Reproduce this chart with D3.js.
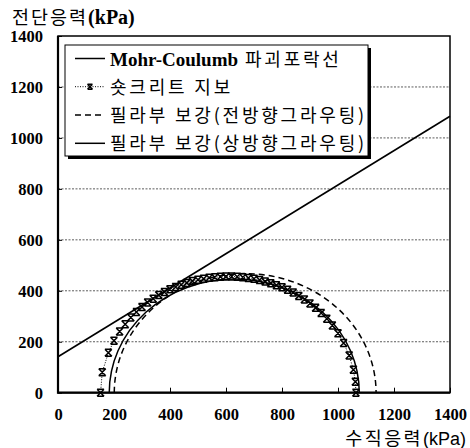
<!DOCTYPE html>
<html><head><meta charset="utf-8">
<script src="https://cdn.jsdelivr.net/npm/d3@7"></script>
<style>body{margin:0;background:#fff}svg{display:block}</style>
</head><body>
<svg id="c" width="470" height="448"></svg>
<script>
const xTicks = [0,200,400,600,800,1000,1200,1400];
const yTicks = [0,200,400,600,800,1000,1200,1400];
const gridVals = [200,400,600,800,1000,1200];
// Mohr-Coulomb failure envelope (sigma, tau)
const mcSigma = [0,1400];
const mcTau = [141,1085];
// Mohr circles for reinforced cases (sigma3, sigma1)
const circleNames = ["필라부 보강(전방향그라우팅)","필라부 보강(상방향그라우팅)"];
const circleSigma3 = [201,183];
const circleSigma1 = [1136,1076];
// Shotcrete support points (sigma, tau)
const shotSigma = [152,158,180,200,220,240,260,280,300,320,340,360,380,400,420,440,460,480,500,520,540,560,580,600,620,640,660,680,700,720,740,760,780,800,820,840,860,880,900,920,940,960,980,1000,1020,1040,1055,1062,1064];
const shotTau   = [0,80,157,204,240,269,295,317,336,354,369,383,395,406,415,424,431,438,443,447,451,453,455,456,456,455,453,450,447,442,436,430,422,414,404,393,380,366,350,333,313,290,264,233,195,146,90,43,0];

const KR = "'Noto Sans CJK KR', sans-serif";
const SERIF = "'Liberation Serif', 'Times New Roman', serif";
const svg = d3.select("#c");
const x = d3.scaleLinear().domain([0,1400]).range([58,450]);
const y = d3.scaleLinear().domain([0,1400]).range([392.7,36]);

// grid
svg.append("g").selectAll("line").data(gridVals).join("line")
  .attr("x1",x(0)).attr("x2",x(1400)).attr("y1",d=>y(d)).attr("y2",d=>y(d))
  .attr("stroke","#333").attr("stroke-width",0.8).attr("stroke-dasharray","2,1.5");

// axes with inner ticks
const fmt = d3.format("d");
const xa = svg.append("g").attr("transform",`translate(0,${y(0)})`)
  .call(d3.axisBottom(x).tickValues(xTicks).tickFormat(fmt).tickSize(-5).tickPadding(16).tickSizeOuter(0));
const ya = svg.append("g").attr("transform",`translate(${x(0)},0)`)
  .call(d3.axisLeft(y).tickValues(yTicks).tickFormat(fmt).tickSize(-4).tickPadding(15).tickSizeOuter(0));
[xa,ya].forEach(a=>{
  a.select(".domain").remove();
  a.selectAll("text").attr("font-family",SERIF).attr("font-weight","bold").attr("font-size",16.5).attr("fill","#000");
  a.selectAll("line").attr("stroke","#000");
});
ya.selectAll("text").attr("dy","0.35em");

// border
svg.append("rect").attr("x",x(0)).attr("y",y(1400)).attr("width",x(1400)-x(0)).attr("height",y(0)-y(1400))
  .attr("fill","none").attr("stroke","#000").attr("stroke-width",1.5);
svg.append("path").attr("d",`M${x(0)},${y(1400)}V${y(0)}H${x(1400)}`).attr("fill","none").attr("stroke","#000").attr("stroke-width",2.2);

const plot = svg.append("g");
// MC line
plot.append("line").attr("x1",x(mcSigma[0])).attr("y1",y(mcTau[0])).attr("x2",x(mcSigma[1])).attr("y2",y(mcTau[1]))
  .attr("stroke","#000").attr("stroke-width",1.6);

// circles
const circleDash = ["6,4",null];
circleSigma3.forEach((s3,i)=>{
  const s1 = circleSigma1[i];
  const r = (s1-s3)/2;
  const rx = x(s3+r)-x(s3), ry = y(0)-y(r);
  plot.append("path").attr("d",`M${x(s3)},${y(0)}A${rx},${ry} 0 0 1 ${x(s1)},${y(0)}`)
    .attr("fill","none").attr("stroke","#000").attr("stroke-width",1.5)
    .attr("stroke-dasharray",circleDash[i]);
});

// shotcrete
const pts = shotSigma.map((s,i)=>[x(s),y(shotTau[i])]);
plot.append("path").attr("d",d3.line()(pts)).attr("fill","none").attr("stroke","#000").attr("stroke-width",1).attr("stroke-dasharray","1,1.5");
function star(g,cx,cy,s){
  g.append("path").attr("d",`M${cx-s},${cy-s}L${cx+s},${cy+s}M${cx-s},${cy+s}L${cx+s},${cy-s}M${cx-s},${cy-s}H${cx+s}M${cx-s},${cy+s}H${cx+s}`)
   .attr("stroke","#000").attr("stroke-width",1.5).attr("fill","none");
}
pts.forEach(p=>star(plot,p[0],p[1],3.5));

// axis titles
const t1 = svg.append("text").attr("x",12).attr("y",24).attr("fill","#000");
t1.append("tspan").attr("font-family",KR).attr("font-size",18.5).attr("letter-spacing",2).text("전단응력");
t1.append("tspan").attr("font-family",SERIF).attr("font-weight","bold").attr("font-size",20).text("(kPa)");
const t2 = svg.append("text").attr("x",466).attr("y",444.5).attr("text-anchor","end").attr("fill","#000");
t2.append("tspan").attr("font-family",KR).attr("font-size",18.5).attr("letter-spacing",2.4).text("수직응력");
t2.append("tspan").attr("font-family","'Liberation Sans', Arial, sans-serif").attr("font-size",18).text("(kPa)");

// legend
const lg = svg.append("g");
lg.append("rect").attr("x",68).attr("y",48).attr("width",303).attr("height",111).attr("fill","#000");
lg.append("rect").attr("x",65).attr("y",45).attr("width",303).attr("height",111).attr("fill","#fff").attr("stroke","#000").attr("stroke-width",1);
const rowsY = [58.5,86.7,115,143.3];
const lx1=75, lx2=105, tx=110;
lg.append("line").attr("x1",lx1).attr("x2",lx2).attr("y1",rowsY[0]).attr("y2",rowsY[0]).attr("stroke","#000").attr("stroke-width",1.5);
lg.append("line").attr("x1",lx1).attr("x2",lx2).attr("y1",rowsY[1]).attr("y2",rowsY[1]).attr("stroke","#000").attr("stroke-width",1).attr("stroke-dasharray","1,1.5");
star(lg,90,rowsY[1],2.5);
lg.append("line").attr("x1",lx1).attr("x2",lx2).attr("y1",rowsY[2]).attr("y2",rowsY[2]).attr("stroke","#000").attr("stroke-width",1.5).attr("stroke-dasharray","6,4");
lg.append("line").attr("x1",lx1).attr("x2",lx2).attr("y1",rowsY[3]).attr("y2",rowsY[3]).attr("stroke","#000").attr("stroke-width",1.5);
const LS = 2.8;
const r1 = lg.append("text").attr("x",tx).attr("y",rowsY[0]+7).attr("fill","#000");
r1.append("tspan").attr("font-family",SERIF).attr("font-weight","bold").attr("font-size",19).text("Mohr-Coulumb");
r1.append("tspan").attr("font-family",KR).attr("font-size",18).attr("letter-spacing",LS).text(" 파괴포락선");
lg.append("text").attr("x",tx).attr("y",rowsY[1]+7).attr("font-family",KR).attr("font-size",18).attr("letter-spacing",LS).text("숏크리트 지보");
lg.append("text").attr("x",tx).attr("y",rowsY[2]+7).attr("font-family",KR).attr("font-size",18).attr("letter-spacing",LS).text(circleNames[0]);
lg.append("text").attr("x",tx).attr("y",rowsY[3]+7).attr("font-family",KR).attr("font-size",18).attr("letter-spacing",LS).text(circleNames[1]);
</script>
</body></html>
